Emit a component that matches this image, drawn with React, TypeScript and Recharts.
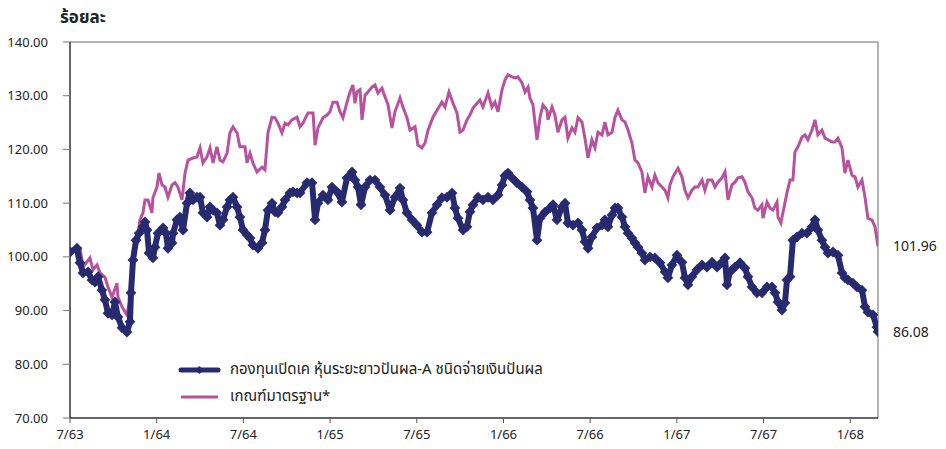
import React from "react";
import {
  LineChart,
  Line,
  XAxis,
  YAxis,
  ReferenceLine,
  ReferenceDot,
} from "recharts";

const NAVY = "#272A6F";
const PINK = "#B8519E";
const FONT = '"Noto Sans Thai", "Noto Sans", "DejaVu Sans", sans-serif';

// months counted from 7/63
const xTickMonths = [0, 6, 12, 18, 24, 30, 36, 42, 48, 54];
const xTickLabels = ["7/63", "1/64", "7/64", "1/65", "7/65", "1/66", "7/66", "1/67", "7/67", "1/68"];
const yTicks = [70, 80, 90, 100, 110, 120, 130, 140];

const fundName = "กองทุนเปิดเค หุ้นระยะยาวปันผล-A ชนิดจ่ายเงินปันผล";
const benchName = "เกณฑ์มาตรฐาน*";

// [month, value]
const fundPoints = [
  [0, 100.9], [0.48, 101.6], [0.69, 98.9], [0.9, 97.0], [1.25, 97.2], [1.52, 95.7], [1.73, 95.3],
  [1.94, 96.3], [2.21, 93.8], [2.42, 92.0], [2.63, 89.5], [2.91, 89.2], [3.11, 91.6], [3.32, 88.8],
  [3.6, 86.8], [3.94, 86.0], [4.15, 87.9], [4.22, 93.3], [4.36, 99.4], [4.57, 103.1], [4.78, 104.4],
  [5.05, 105.6], [5.19, 106.5], [5.33, 105.0], [5.47, 100.7], [5.74, 99.8], [5.88, 101.8], [6.09, 104.4],
  [6.44, 105.4], [6.64, 104.4], [6.78, 101.6], [7.06, 102.6], [7.13, 104.4], [7.4, 106.9], [7.61, 107.4],
  [7.82, 105.0], [8.1, 110.0], [8.3, 111.9], [8.51, 110.6], [8.79, 111.1], [9.0, 111.1], [9.2, 108.2],
  [9.48, 107.4], [9.69, 109.3], [9.9, 108.7], [10.17, 108.2], [10.38, 105.9], [10.59, 106.9], [10.87, 109.3],
  [11.07, 110.6], [11.28, 111.1], [11.56, 109.3], [11.76, 107.4], [11.97, 105.0], [12.25, 104.1], [12.46, 103.5],
  [12.66, 102.2], [13.01, 101.6], [13.29, 102.6], [13.49, 105.0], [13.7, 108.7], [13.98, 110.0], [14.19, 108.4],
  [14.39, 108.2], [14.67, 109.3], [14.88, 110.6], [15.22, 111.9], [15.43, 112.1], [15.71, 111.9], [15.92, 111.9],
  [16.4, 113.8], [16.75, 113.8], [16.96, 106.9], [17.16, 110.0], [17.51, 111.5], [17.85, 110.6], [18.13, 113.0],
  [18.48, 112.1], [18.82, 110.2], [19.17, 114.7], [19.52, 115.8], [19.72, 114.3], [19.93, 113.0], [20.14, 109.7],
  [20.42, 113.0], [20.76, 114.3], [21.11, 114.3], [21.45, 113.0], [21.8, 111.5], [22.15, 108.7], [22.49, 111.1],
  [22.84, 112.8], [23.04, 110.6], [23.32, 108.2], [23.67, 106.9], [24.01, 105.9], [24.36, 104.6], [24.71, 104.6],
  [25.05, 108.2], [25.4, 109.7], [25.74, 111.0], [26.09, 111.1], [26.44, 111.9], [26.64, 109.1], [26.85, 107.2],
  [27.2, 105.0], [27.47, 105.6], [27.68, 108.4], [27.89, 109.7], [28.24, 111.1], [28.58, 110.6], [28.93, 111.1],
  [29.27, 110.6], [29.62, 111.5], [29.9, 113.4], [30.1, 115.1], [30.31, 115.6], [30.59, 114.7], [30.93, 113.8],
  [31.28, 113.0], [31.63, 112.1], [31.83, 110.6], [32.04, 109.1], [32.32, 103.1], [32.53, 107.2], [32.87, 108.3],
  [33.22, 109.1], [33.43, 109.7], [33.7, 106.9], [34.05, 109.3], [34.26, 110.0], [34.46, 106.3], [34.81, 105.9],
  [35.16, 106.3], [35.43, 105.0], [35.64, 102.8], [35.85, 101.6], [36.12, 103.7], [36.47, 105.4], [36.82, 105.9],
  [37.02, 106.9], [37.23, 105.6], [37.51, 107.8], [37.72, 109.1], [37.92, 109.1], [38.2, 107.4], [38.41, 105.6],
  [38.62, 104.4], [38.89, 103.5], [39.1, 102.6], [39.31, 101.8], [39.58, 100.7], [39.79, 99.4], [40.14, 100.0],
  [40.48, 99.8], [40.83, 98.9], [41.18, 97.2], [41.38, 96.1], [41.66, 98.5], [42.01, 100.3], [42.35, 99.0],
  [42.56, 96.1], [42.77, 94.8], [43.04, 96.3], [43.39, 97.6], [43.74, 98.5], [44.08, 98.1], [44.43, 99.0],
  [44.78, 98.1], [45.12, 99.0], [45.33, 99.8], [45.47, 94.8], [45.67, 97.2], [46.02, 98.1], [46.37, 98.9],
  [46.71, 97.9], [46.92, 96.3], [47.2, 94.4], [47.54, 93.3], [47.89, 93.3], [48.24, 94.4], [48.58, 94.4],
  [48.79, 93.3], [49.0, 91.6], [49.27, 90.1], [49.48, 91.4], [49.62, 95.7], [49.83, 96.3], [50.03, 103.1],
  [50.31, 103.7], [50.66, 104.4], [51.0, 104.4], [51.35, 105.6], [51.56, 106.9], [51.76, 105.0], [52.04, 103.1],
  [52.25, 101.8], [52.46, 100.7], [52.8, 100.9], [53.15, 100.3], [53.43, 97.0], [53.63, 96.1], [53.84, 95.7],
  [54.19, 95.1], [54.46, 94.4], [54.81, 93.8], [55.02, 90.7], [55.22, 89.7], [55.57, 89.2], [55.85, 86.9],
  [55.92, 86.08],
];

const benchPoints = [
  [0, 100.2], [0.35, 101.6], [0.55, 99.4], [0.69, 101.8], [0.9, 98.1], [1.38, 99.8], [1.59, 97.6], [1.87, 98.5],
  [2.08, 97.0], [2.42, 96.2], [2.63, 94.4], [2.91, 92.5], [3.25, 95.1], [3.32, 92.5], [3.6, 90.7], [3.94, 89.2],
  [4.15, 92.0], [4.36, 99.4], [4.64, 103.1], [4.84, 106.9], [5.05, 108.2], [5.19, 110.6], [5.4, 110.6],
  [5.67, 108.2], [5.74, 111.0], [6.02, 113.0], [6.16, 115.6], [6.37, 113.4], [6.57, 113.0], [6.78, 111.1],
  [7.06, 113.4], [7.27, 113.8], [7.47, 113.0], [7.75, 110.6], [7.96, 115.6], [8.17, 118.0], [8.51, 118.4],
  [8.79, 118.6], [9.0, 120.3], [9.2, 117.5], [9.48, 118.6], [9.69, 120.3], [9.9, 117.5], [10.17, 120.5],
  [10.38, 118.0], [10.59, 117.7], [10.87, 119.3], [11.07, 123.1], [11.28, 124.2], [11.56, 123.1], [11.76, 120.5],
  [12.11, 120.5], [12.25, 117.5], [12.46, 119.3], [12.66, 117.5], [12.94, 115.8], [13.29, 116.7], [13.49, 116.2],
  [13.7, 123.1], [13.98, 126.0], [14.19, 125.9], [14.39, 124.9], [14.67, 123.1], [14.88, 124.9], [15.09, 124.6],
  [15.36, 125.5], [15.71, 126.0], [15.92, 124.2], [16.12, 124.9], [16.47, 126.8], [16.82, 126.8], [16.96, 120.8],
  [17.16, 124.0], [17.51, 125.9], [17.79, 126.4], [17.99, 127.0], [18.2, 128.8], [18.48, 128.8], [18.69, 127.0],
  [18.89, 125.9], [19.17, 128.8], [19.38, 130.7], [19.58, 132.0], [19.72, 128.6], [19.86, 130.7], [20.07, 131.1],
  [20.21, 125.5], [20.42, 130.1], [20.62, 130.7], [20.9, 131.6], [21.11, 132.0], [21.31, 130.5], [21.59, 131.4],
  [21.8, 129.8], [22.01, 128.3], [22.28, 124.0], [22.49, 127.0], [22.84, 129.6], [23.04, 127.9], [23.32, 125.9],
  [23.53, 123.6], [23.88, 124.2], [24.08, 120.8], [24.36, 120.3], [24.57, 121.2], [24.78, 123.6], [25.12, 126.0],
  [25.4, 127.3], [25.74, 128.8], [25.95, 127.9], [26.23, 130.7], [26.51, 128.6], [26.78, 126.8], [26.99, 123.2],
  [27.2, 123.6], [27.47, 125.5], [27.68, 126.4], [27.89, 127.7], [28.17, 128.6], [28.37, 129.2], [28.58, 127.9],
  [28.93, 130.5], [29.2, 127.9], [29.41, 128.8], [29.62, 127.0], [29.9, 131.1], [30.1, 132.9], [30.31, 133.9],
  [30.59, 133.5], [30.8, 133.3], [31.0, 133.5], [31.28, 132.4], [31.49, 130.7], [31.7, 131.6], [31.83, 129.6],
  [32.04, 128.3], [32.32, 121.8], [32.53, 126.0], [32.73, 128.3], [33.01, 127.3], [33.08, 125.5], [33.36, 127.9],
  [33.56, 126.4], [33.77, 123.2], [34.05, 125.5], [34.26, 126.0], [34.46, 122.1], [34.74, 124.0], [34.95, 123.2],
  [35.16, 125.9], [35.43, 125.1], [35.64, 122.1], [35.85, 118.4], [36.12, 121.8], [36.33, 120.3], [36.54, 123.2],
  [36.82, 122.7], [37.02, 125.1], [37.23, 122.7], [37.51, 123.2], [37.72, 126.0], [37.92, 127.3], [38.2, 125.5],
  [38.41, 125.1], [38.62, 123.6], [38.89, 121.2], [39.1, 118.0], [39.31, 117.5], [39.58, 115.8], [39.79, 111.9],
  [40.0, 114.9], [40.28, 113.0], [40.48, 115.2], [40.69, 113.8], [40.97, 113.0], [41.18, 112.4], [41.38, 111.0],
  [41.52, 113.4], [41.73, 114.9], [42.08, 116.5], [42.35, 114.9], [42.56, 112.4], [42.77, 111.0], [43.04, 112.4],
  [43.25, 113.0], [43.46, 113.0], [43.74, 114.3], [43.94, 112.4], [44.15, 114.3], [44.43, 114.3], [44.64, 113.0],
  [44.84, 113.9], [45.12, 114.7], [45.33, 115.8], [45.54, 110.6], [45.81, 113.4], [46.02, 113.9], [46.23, 114.7],
  [46.51, 114.9], [46.71, 113.9], [46.92, 112.1], [47.2, 111.0], [47.4, 109.1], [47.61, 108.7], [47.89, 109.7],
  [47.96, 107.2], [48.24, 110.2], [48.44, 109.1], [48.65, 108.7], [48.93, 110.2], [49.0, 107.4], [49.2, 106.3],
  [49.34, 108.2], [49.62, 111.9], [49.83, 114.3], [50.03, 114.3], [50.17, 119.5], [50.38, 120.5], [50.66, 122.3],
  [50.87, 122.7], [51.07, 121.8], [51.35, 123.6], [51.56, 125.5], [51.76, 122.7], [52.04, 123.6], [52.25, 122.1],
  [52.46, 121.8], [52.73, 121.4], [52.94, 121.4], [53.15, 122.1], [53.43, 120.3], [53.63, 115.6], [53.84, 118.0],
  [54.12, 115.2], [54.33, 114.9], [54.53, 113.0], [54.81, 114.3], [55.02, 111.1], [55.22, 107.2], [55.5, 106.9],
  [55.71, 105.6], [55.92, 101.96],
];

const LAST_MONTH = 55.92;

const fundData = fundPoints.map(([m, v]) => ({ m, v }));
const benchData = benchPoints.map(([m, v]) => ({ m, v }));
const fundLast = fundData[fundData.length - 1];
const benchLast = benchData[benchData.length - 1];

// diamond marker used by the fund series
function Diamond(props: any) {
  const { cx, cy, index } = props;
  if (cx == null || cy == null) return <g key={`n-${index}`} />;
  const s = 5.4;
  return (
    <path
      key={`d-${index}`}
      d={`M${cx},${cy - s}L${cx + s},${cy}L${cx},${cy + s}L${cx - s},${cy}Z`}
      fill={NAVY}
    />
  );
}

function LegendBox() {
  return (
    <div
      style={{
        position: "absolute",
        left: 170,
        top: 348,
        fontFamily: FONT,
        fontSize: 15,
        color: "#222",
        whiteSpace: "nowrap",
      }}
    >
      <div style={{ display: "flex", alignItems: "center", height: 27 }}>
        <svg width={52} height={12}>
          <line x1={3} y1={6} x2={40} y2={6} stroke={NAVY} strokeWidth={5} strokeLinecap="round" />
          <path d="M21.5,2L25.5,6L21.5,10L17.5,6Z" fill={NAVY} />
        </svg>
        <span>{fundName}</span>
      </div>
      <div style={{ display: "flex", alignItems: "center", height: 27 }}>
        <svg width={52} height={12}>
          <line x1={3} y1={6} x2={40} y2={6} stroke={PINK} strokeWidth={3} />
        </svg>
        <span>{benchName}</span>
      </div>
    </div>
  );
}

export default function App() {
  const tickStyle = { fill: "#222", fontSize: 13, fontFamily: FONT };
  return (
    <div style={{ position: "relative", width: 930, height: 441 }}>
      <div
        style={{
          position: "absolute",
          left: 52,
          top: -3,
          fontFamily: FONT,
          fontWeight: 700,
          fontSize: 17,
          color: "#222",
        }}
      >
        ร้อยละ
      </div>
      <LineChart
        width={930}
        height={441}
        margin={{ top: 34, right: 60, left: 0, bottom: 0 }}
      >
        <XAxis
          type="number"
          dataKey="m"
          domain={[0, LAST_MONTH]}
          ticks={xTickMonths}
          tickFormatter={(v: number) => xTickLabels[xTickMonths.indexOf(v)] ?? ""}
          allowDataOverflow
          height={31}
          tickSize={5}
          tickMargin={7}
          tick={tickStyle}
          stroke="#333"
          axisLine={{ stroke: "#333", strokeWidth: 1.5 }}
          tickLine={{ stroke: "#555" }}
        />
        <YAxis
          type="number"
          domain={[70, 140]}
          ticks={yTicks}
          tickFormatter={(v: number) => v.toFixed(2)}
          width={62}
          tickSize={7}
          tickMargin={15}
          tick={tickStyle}
          axisLine={{ stroke: "#333", strokeWidth: 1.5 }}
          tickLine={{ stroke: "#777" }}
        />
        <ReferenceLine y={140} stroke="#999" strokeWidth={1.5} />
        <ReferenceLine x={LAST_MONTH} stroke="#999" strokeWidth={1.5} />
        <Line
          data={benchData}
          dataKey="v"
          name={benchName}
          stroke={PINK}
          strokeWidth={3}
          dot={false}
          isAnimationActive={false}
        />
        <Line
          data={fundData}
          dataKey="v"
          name={fundName}
          stroke={NAVY}
          strokeWidth={6}
          strokeLinejoin="round"
          dot={Diamond}
          isAnimationActive={false}
        />
        <ReferenceDot
          x={benchLast.m}
          y={benchLast.v}
          r={1}
          fill="transparent"
          stroke="none"
          label={{ value: "101.96", position: "right", offset: 14, fill: "#222", fontSize: 14, fontFamily: FONT }}
        />
        <ReferenceDot
          x={fundLast.m}
          y={fundLast.v}
          r={1}
          fill="transparent"
          stroke="none"
          label={{ value: "86.08", position: "right", offset: 14, fill: "#222", fontSize: 14, fontFamily: FONT }}
        />
      </LineChart>
      <LegendBox />
    </div>
  );
}
